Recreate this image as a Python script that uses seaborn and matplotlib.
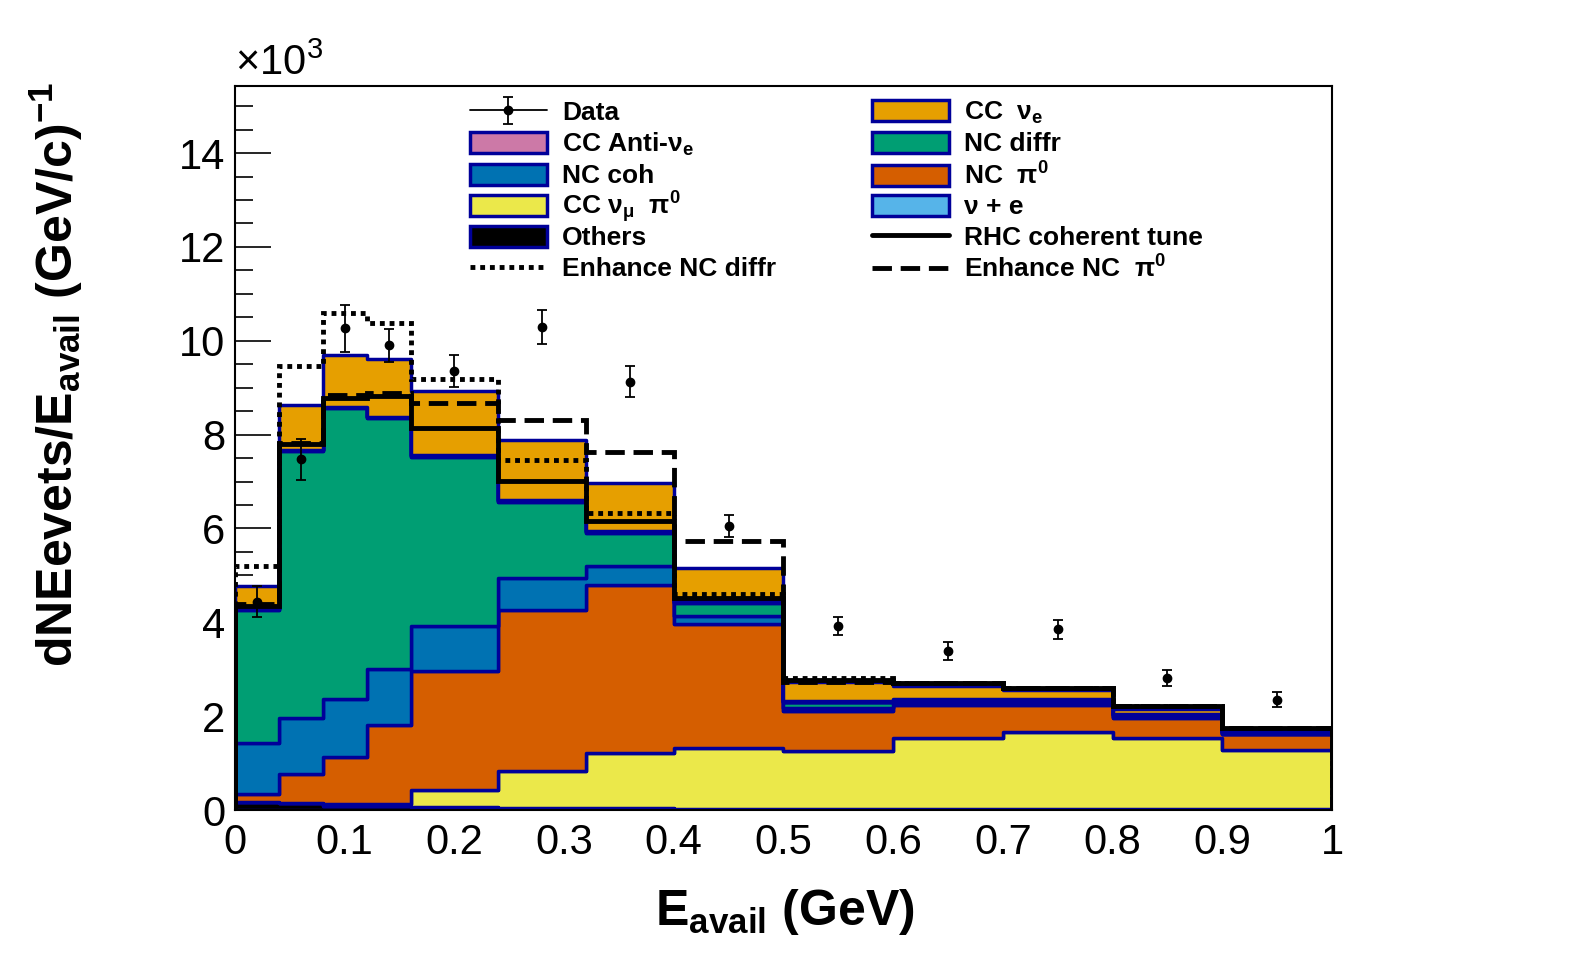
import numpy as np
import pandas as pd
import matplotlib
matplotlib.use('Agg')
import matplotlib.pyplot as plt
from matplotlib.patches import Patch
from matplotlib.lines import Line2D
from matplotlib.legend_handler import HandlerTuple
from matplotlib.ticker import MultipleLocator, FuncFormatter
import seaborn as sns

# binning in E_avail (GeV)
edges = [0, 0.04, 0.08, 0.12, 0.16, 0.24, 0.32, 0.4, 0.5, 0.6, 0.7, 0.8, 0.9, 1.0]
centers = [0.02, 0.06, 0.10, 0.14, 0.20, 0.28, 0.36, 0.45, 0.55, 0.65, 0.75, 0.85, 0.95]

# MC components, units of 10^3 (stack order top -> bottom)
cc_nue = [0.49, 0.95, 1.10, 1.23, 1.36, 1.28, 1.02, 0.70, 0.40, 0.28, 0.20, 0.12, 0.02]
cc_antinue = [0.01, 0.01, 0.01, 0.01, 0.01, 0.01, 0.01, 0.01, 0.01, 0.01, 0.01, 0.01, 0.01]
nu_e = [0.02, 0.02, 0.02, 0.02, 0.02, 0.02, 0.02, 0.02, 0.01, 0.01, 0.01, 0.01, 0.01]
nc_diffr = [2.83, 5.69, 6.19, 5.34, 3.61, 1.63, 0.72, 0.29, 0.13, 0.07, 0.06, 0.03, 0.02]
nc_coh = [1.08, 1.20, 1.24, 1.19, 0.95, 0.67, 0.40, 0.17, 0.05, 0.05, 0.04, 0.03, 0.02]
nc_pi0 = [0.18, 0.61, 1.01, 1.70, 2.55, 3.44, 3.58, 2.63, 0.87, 0.70, 0.58, 0.43, 0.33]
cc_numu_pi0 = [0.0, 0.0, 0.04, 0.04, 0.35, 0.78, 1.17, 1.30, 1.23, 1.51, 1.64, 1.51, 1.26]
others = [0.17, 0.15, 0.08, 0.08, 0.07, 0.05, 0.04, 0.03, 0.02, 0.02, 0.02, 0.02, 0.02]

# alternative predictions
rhc_tune = [4.35, 7.79, 8.79, 8.83, 8.15, 7.01, 6.16, 4.51, 2.77, 2.70, 2.60, 2.21, 1.74]
enh_diffr = [5.20, 9.47, 10.60, 10.38, 9.19, 7.46, 6.33, 4.60, 2.81, 2.70, 2.60, 2.21, 1.74]
enh_pi0 = [4.38, 7.83, 8.84, 8.88, 8.67, 8.32, 7.63, 5.73, 2.72, 2.70, 2.60, 2.21, 1.74]

# data
data_y = [4.44, 7.47, 10.27, 9.90, 9.35, 10.30, 9.13, 6.05, 3.92, 3.39, 3.85, 2.81, 2.35]
data_err = [0.33, 0.44, 0.50, 0.35, 0.34, 0.36, 0.33, 0.24, 0.20, 0.19, 0.20, 0.17, 0.16]

comps = {
    'CC nue': (cc_nue, '#E69F00'),
    'CC antinue': (cc_antinue, '#CC79A7'),
    'nu+e': (nu_e, '#56B4E9'),
    'NC diffr': (nc_diffr, '#009E73'),
    'NC coh': (nc_coh, '#0072B2'),
    'NC pi0': (nc_pi0, '#D55E00'),
    'CC numu pi0': (cc_numu_pi0, '#EBE84A'),
    'Others': (others, '#000000'),
}
edge_col = '#000099'

rows = []
for name, (vals, _) in comps.items():
    for c, v in zip(centers, vals):
        rows.append({'x': c, 'w': v, 'comp': name})
df = pd.DataFrame(rows)

sns.set_theme(style='ticks')
plt.rcParams['font.family'] = ['Liberation Sans', 'DejaVu Sans']
plt.rcParams['mathtext.fontset'] = 'custom'
plt.rcParams['mathtext.rm'] = 'Liberation Sans'
plt.rcParams['mathtext.bf'] = 'Liberation Sans:bold'
plt.rcParams['mathtext.it'] = 'Liberation Sans:italic'
plt.rcParams['text.color'] = 'black'
plt.rcParams['axes.labelcolor'] = 'black'

fig = plt.figure(figsize=(15.96, 9.72), dpi=100)
ax = fig.add_axes([235 / 1596, 1 - 810 / 972, (1332 - 235) / 1596, (810 - 86) / 972])

sns.histplot(data=df, x='x', weights='w', hue='comp', hue_order=list(comps.keys()),
             palette={k: v[1] for k, v in comps.items()}, bins=edges,
             multiple='stack', element='step', alpha=1, edgecolor=edge_col,
             linewidth=2.5, legend=False, ax=ax)

dot_ls = (0, (1, 1))
dash_ls = (0, (4, 1.8))
ax.stairs(enh_diffr, edges, color='black', lw=3.5, ls=dot_ls)
ax.stairs(enh_pi0, edges, color='black', lw=3.5, ls=dash_ls)
ax.stairs(rhc_tune, edges, color='black', lw=3.5)
ax.vlines(0, 0, rhc_tune[0], color='black', lw=3.5)

eb = ax.errorbar(centers, data_y, yerr=data_err, fmt='o', color='black', ms=6,
                 elinewidth=1.3, capsize=3.5, capthick=1.3)

ax.set_xlim(0, 1)
ax.set_ylim(0, 15.43)
ax.set_xlabel('')
ax.set_ylabel('')
ax.xaxis.set_major_locator(MultipleLocator(0.1))
ax.xaxis.set_minor_locator(MultipleLocator(0.02))
ax.yaxis.set_major_locator(MultipleLocator(2))
ax.yaxis.set_minor_locator(MultipleLocator(0.5))
ax.xaxis.set_major_formatter(FuncFormatter(lambda v, _: f"{round(v, 2):g}"))
ax.yaxis.set_major_formatter(FuncFormatter(lambda v, _: f"{round(v):g}"))
ax.tick_params(axis='both', which='both', direction='in', top=False, right=False,
               colors='black', labelsize=30)
ax.tick_params(axis='y', which='major', length=26, width=1.2, pad=7)
ax.tick_params(axis='y', which='minor', length=13, width=1.2)
ax.tick_params(axis='x', which='major', length=16, width=1.2, pad=9)
ax.tick_params(axis='x', which='minor', length=8, width=1.2)
for s in ax.spines.values():
    s.set_linewidth(1.5)
    s.set_color('black')

fig.text(235 / 1596, 1 - 84 / 972, '×10$^{\\mathregular{3}}$', fontsize=30,
         ha='left', va='bottom', color='black')
fig.text(0.035, 1 - 82 / 972, 'dNEevets/E$_{\\mathbf{avail}}$ (GeV/c)$^{\\mathbf{-1}}$',
         fontsize=36, fontweight='bold', rotation=90, ha='center', va='top', color='black')
fig.text(785 / 1596, 1 - 912 / 972, 'E$_{\\mathbf{avail}}$ (GeV)', fontsize=36,
         fontweight='bold', ha='center', va='center', color='black')


def box(col):
    return Patch(facecolor=col, edgecolor=edge_col, linewidth=2.5)


hline = Line2D([], [], color='black', lw=1.3)
h1 = [(hline, eb), box(comps['CC antinue'][1]), box(comps['NC coh'][1]),
      box(comps['CC numu pi0'][1]), box(comps['Others'][1]),
      Line2D([], [], color='black', lw=3.5, ls=dot_ls)]
l1 = ['Data', 'CC Anti-ν$_{\\mathbf{e}}$', 'NC coh', 'CC ν$_{\\mathregular{μ}}$  π$^{\\mathbf{0}}$',
      'Others', 'Enhance NC diffr']
h2 = [box(comps['CC nue'][1]), box(comps['NC diffr'][1]), box(comps['NC pi0'][1]),
      box(comps['nu+e'][1]), Line2D([], [], color='black', lw=3.5),
      Line2D([], [], color='black', lw=3.5, ls=dash_ls)]
l2 = ['CC  ν$_{\\mathbf{e}}$', 'NC diffr', 'NC  π$^{\\mathbf{0}}$', 'ν + e',
      'RHC coherent tune', 'Enhance NC  π$^{\\mathbf{0}}$']

row_y = [113, 144, 176, 207, 238, 269]
leg_kw = dict(loc='center left', frameon=False, borderpad=0, borderaxespad=0,
              handlelength=2.9, handleheight=0.85, handletextpad=0.6,
              prop={'size': 19, 'weight': 'bold'},
              handler_map={tuple: HandlerTuple(ndivide=1)})
for col_x, hs, ls in [(470, h1, l1), (872, h2, l2)]:
    for yy, h, lab in zip(row_y, hs, ls):
        fig.legend([h], [lab], bbox_to_anchor=(col_x / 1596, 1 - yy / 972), **leg_kw)

fig.savefig('out.png', dpi=100)
